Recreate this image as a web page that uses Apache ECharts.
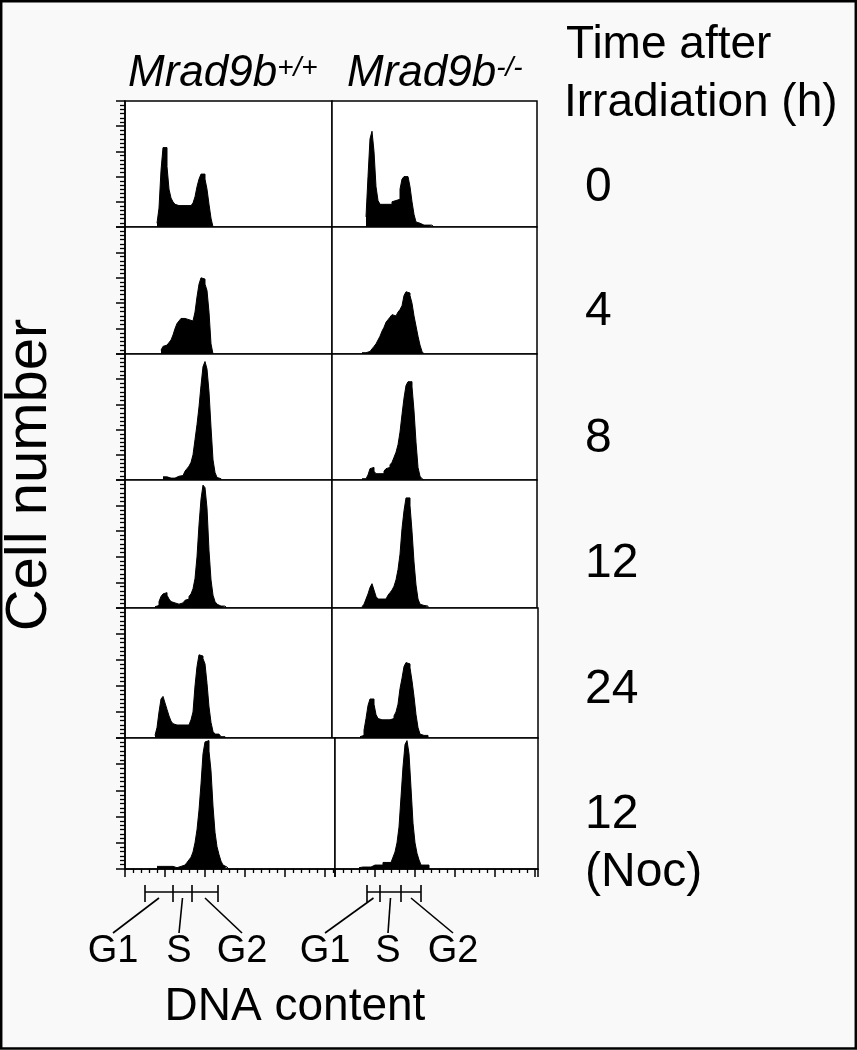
<!DOCTYPE html>
<html><head><meta charset="utf-8">
<script src="https://cdn.jsdelivr.net/npm/echarts@6/dist/echarts.min.js"></script>
<style>html,body{margin:0;padding:0;background:#f9f9f9}#c{width:857px;height:1050px}</style>
</head><body><div id="c"></div>
<script>
// ---------- data ----------
const BIN = 2; // bin width (DNA content channels)
const genotypes = ['Mrad9b', 'Mrad9b'];
const genotypeSup = ['+/+', '-/-'];
const timeLabels = ['0', '4', '8', '12', '24', '12', '(Noc)'];
const phaseLabels = ['G1', 'S', 'G2'];
// gate boundaries (DNA content) under the bottom panels
const gatesWT = [20, 48, 67, 93];
const gatesKO = [32, 45, 66, 86];

// histogram values (% of panel height); each series starts at its own channel
const wt0Start = 32;
const wt0 = [3,15,45,63,63,48,30,23,20,18,17,17,17,17,17,17,17,17,19,24,32,38,42,42,38,30,18,7];
const ko0Start = 34;
const ko0 = [8,40,70,76,60,32,21,18,18,18,18,18,18,20,21,21,22,30,38,40,40,40,32,20,10,4,3,3,1.5,1.5,1.5,1.5,1.5,1.5];
const wt4Start = 36;
const wt4 = [3,6,7,8,9,11,15,20,24,26,28,28,28,27,26,26,27,33,45,55,60,59,55,50,33,8];
const ko4Start = 30;
const ko4 = [1,1,1,2,3,4,6,8,11,14,18,21,25,27,29,31,30,31,33,35,38,46,49,48,46,40,30,22,14,7,2];
const wt8Start = 38;
const wt8 = [2.5,2.5,1.5,1.5,1.5,1.5,2,3,3,3.5,5,7,9,11,14,20,32,44,58,75,90,94,88,70,42,16,6,2,1];
const ko8Start = 30;
const ko8 = [1,1,2,4,9,10,7,5,5,5,5,7,9,10,12,14,18,22,28,38,52,65,75,78,78,74,55,30,10,3,1];
const wt12Start = 30;
const wt12 = [1,2,5,9,11,12,10,7,5,4,3,3,3,4,5,6,7,9,11,15,23,40,65,85,96,94,78,45,22,10,5,3,1.5,1.5,1.5,1.5];
const ko12Start = 30;
const ko12 = [1,3,7,11,16,19,14,9,7,7,7,7,8,10,12,14,17,22,30,42,62,76,86,86,80,60,36,18,7,3,2,2,1.5];
const wt24Start = 30;
const wt24 = [2,8,20,30,32,27,22,17,13,11,10,10,10,10,10,10,10,11,14,20,40,55,64,63,61,57,42,24,12,5,3,3,2,1,1];
const ko24Start = 28;
const ko24 = [1,2,6,15,25,30,30,26,18,15,14,14,14,14,14,14,15,17,20,26,38,46,55,58,57,54,44,32,18,8,3,2,2,2];
const wtNocStart = 32;
const wtNoc = [2,2,2,2,2,2,2,2,1,1,2,2,2,3,4,5,7,9,13,20,30,45,65,88,97,98,90,75,48,28,17,11,6,3,1.5,1];
const koNocStart = 24;
const koNoc = [1,1.5,1.5,1.5,1.5,1.5,1.5,3,3,3,3,3,5,5,5,5,5,9,13,20,32,55,78,95,98,88,62,35,20,12,7,3,3,3,3];

const histograms = [
  [[wt0Start, wt0], [ko0Start, ko0]],
  [[wt4Start, wt4], [ko4Start, ko4]],
  [[wt8Start, wt8], [ko8Start, ko8]],
  [[wt12Start, wt12], [ko12Start, ko12]],
  [[wt24Start, wt24], [ko24Start, ko24]],
  [[wtNocStart, wtNoc], [koNocStart, koNoc]]
];

// ---------- layout ----------
const rowTop = [101, 227, 354, 480, 608, 738];
const rowBottom = [227, 354, 480, 608, 738, 869];
const colEdges = [
  [[125, 332], [332, 537]],
  [[125, 332], [332, 537]],
  [[125, 332], [332, 537]],
  [[125, 332], [332, 537]],
  [[125, 332], [332, 538]],
  [[125, 335], [335, 538]]
];
const FONT = '"Liberation Sans", Arial, Helvetica, sans-serif';

function histData(start, vals) {
  const d = vals.map((v, i) => [start + i * BIN, v]);
  d.push([start + vals.length * BIN, 0]);
  return d;
}

const grids = [], xAxes = [], yAxes = [], series = [];
let idx = 0;
for (let r = 0; r < 6; r++) {
  for (let c = 0; c < 2; c++) {
    const [l, rt] = colEdges[r][c];
    const w = rt - l;
    grids.push({
      left: l, top: rowTop[r], width: w, height: rowBottom[r] - rowTop[r],
      show: true, backgroundColor: '#ffffff', borderColor: '#000', borderWidth: 1.5
    });
    const bottomRow = r === 5;
    xAxes.push({
      gridIndex: idx, type: 'value', min: 0, max: w, interval: 40,
      show: bottomRow,
      axisLine: { show: true, onZero: false, lineStyle: { color: '#000', width: 1.5 } },
      axisTick: { show: true, length: 8, lineStyle: { color: '#000', width: 1.5 } },
      minorTick: { show: true, splitNumber: 5, length: 4, lineStyle: { color: '#000', width: 1.3 } },
      axisLabel: { show: false }, splitLine: { show: false }
    });
    yAxes.push({
      gridIndex: idx, type: 'value', min: 0, max: 100, interval: 20,
      show: c === 0,
      axisLine: { show: true, lineStyle: { color: '#000', width: 1.5 } },
      axisTick: { show: true, length: 9, lineStyle: { color: '#000', width: 1.5 } },
      minorTick: { show: true, splitNumber: 6, length: 5, lineStyle: { color: '#000', width: 1.3 } },
      axisLabel: { show: false }, splitLine: { show: false }
    });
    const [s, v] = histograms[r][c];
    series.push({
      type: 'line', xAxisIndex: idx, yAxisIndex: idx, step: 'end',
      symbol: 'none', silent: true, animation: false,
      lineStyle: { color: '#000', width: 1 },
      areaStyle: { color: '#000', opacity: 1 },
      data: histData(s, v)
    });
    idx++;
  }
}

const chart = echarts.init(document.getElementById('c'), null, { renderer: 'canvas' });
chart.setOption({
  backgroundColor: '#f9f9f9',
  animation: false,
  grid: grids, xAxis: xAxes, yAxis: yAxes, series: series
});

// ---------- annotations ----------
const graphic = [];
graphic.push({ type: 'rect', shape: { x: 1.2, y: 1.2, width: 854.6, height: 1047.4 },
  style: { fill: 'none', stroke: '#000', lineWidth: 2.5 }, z: 100 });

function txt(text, x, y, size, opts) {
  return Object.assign({ type: 'text', x: x, y: y, z: 100,
    style: Object.assign({ text: text, font: size + 'px ' + FONT, fill: '#000',
      textAlign: 'left', textVerticalAlign: 'middle' }, (opts && opts.style) || {}) },
    (opts && opts.el) || {});
}

// genotype headers
const headerX = [128, 347];
for (let c = 0; c < 2; c++) {
  graphic.push({ type: 'text', x: headerX[c], y: 50, z: 100, style: {
    text: '{m|' + genotypes[c] + '}{s|' + genotypeSup[c] + '}',
    textAlign: 'left', textVerticalAlign: 'top',
    rich: {
      m: { fontFamily: FONT, fontStyle: 'italic', fontSize: 44, lineHeight: 48, fill: '#000' },
      s: { fontFamily: FONT, fontStyle: 'italic', fontSize: 28, lineHeight: 28, fill: '#000', verticalAlign: 'top', padding: [4, 0, 0, 0] }
    }
  }});
}

graphic.push(txt('Time after', 566, 45, 46));
graphic.push(txt('Irradiation (h)', 564, 103, 46));
const timeY = [188, 312, 439, 564, 690, 815, 873];
timeLabels.forEach((t, i) => graphic.push(txt(t, 585, timeY[i], 48)));

graphic.push(txt('Cell number', 30, 475, 58, { el: { rotation: Math.PI / 2 }, style: { textAlign: 'center' } }));
graphic.push(txt('DNA content', 295, 1007, 46, { style: { textAlign: 'center' } }));

function gateAnnot(gates, axisIndex, labelX) {
  const px = gates.map(g => chart.convertToPixel({ xAxisIndex: axisIndex }, g));
  const lw = 1.6;
  graphic.push({ type: 'line', z: 100, shape: { x1: px[0], y1: 892, x2: px[3], y2: 892 }, style: { stroke: '#000', lineWidth: lw } });
  px.forEach(p => graphic.push({ type: 'line', z: 100, shape: { x1: p, y1: 885, x2: p, y2: 902 }, style: { stroke: '#000', lineWidth: lw } }));
  for (let k = 0; k < 3; k++) {
    const mid = (px[k] + px[k + 1]) / 2;
    graphic.push({ type: 'line', z: 100, shape: { x1: mid, y1: 898, x2: labelX[k], y2: 933 }, style: { stroke: '#000', lineWidth: lw } });
    graphic.push(txt(phaseLabels[k], labelX[k], 952, 38, { style: { textAlign: 'center' } }));
  }
}
gateAnnot(gatesWT, 10, [113, 179, 242]);
gateAnnot(gatesKO, 11, [325, 388, 453]);

chart.setOption({ graphic: graphic });
</script></body></html>
